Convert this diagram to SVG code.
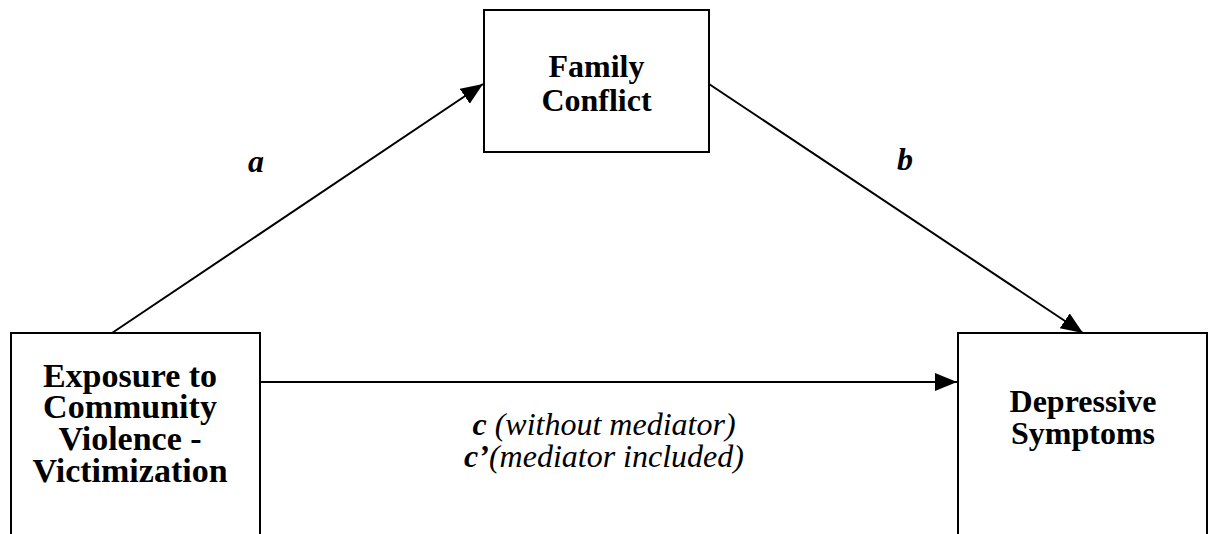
<svg xmlns="http://www.w3.org/2000/svg" width="1210" height="534" viewBox="0 0 1210 534">
  <style>
    .box { fill: #ffffff; stroke: #000000; stroke-width: 2; }
    .conn { fill: none; stroke: #000000; stroke-width: 2; }
    .lbl { font-family: "Liberation Serif", "Times New Roman", serif; font-size: 32px; font-weight: bold; fill: #000000; text-anchor: middle; }
    .big { font-size: 34px; }
    .it { font-family: "Liberation Serif", "Times New Roman", serif; font-size: 32px; font-style: italic; fill: #000000; text-anchor: middle; }
  </style>
  <defs>
    <marker id="arr" markerUnits="userSpaceOnUse" markerWidth="24" markerHeight="20" refX="22" refY="9" orient="auto">
      <path d="M0,0 L22,9 L0,18 z" fill="#000000"/>
    </marker>
  </defs>
  <rect width="1210" height="534" fill="#ffffff"/>
  <g id="connectors">
    <line class="conn" x1="112" y1="333" x2="483" y2="84" marker-end="url(#arr)"/>
    <line class="conn" x1="709" y1="84" x2="1083" y2="333" marker-end="url(#arr)"/>
    <line class="conn" x1="261" y1="382" x2="957" y2="382" marker-end="url(#arr)"/>
  </g>
  <g id="node-family">
    <rect class="box" x="484" y="10" width="225" height="142"/>
    <text class="lbl" x="596.5" y="77">Family</text>
    <text class="lbl" x="596.5" y="111">Conflict</text>
  </g>
  <g id="node-exposure">
    <rect class="box" x="11" y="333" width="249" height="220"/>
    <text class="lbl big" x="130" y="387">Exposure to</text>
    <text class="lbl big" x="130" y="418">Community</text>
    <text class="lbl big" x="130" y="450">Violence -</text>
    <text class="lbl big" x="130" y="482">Victimization</text>
  </g>
  <g id="node-depressive">
    <rect class="box" x="958" y="333" width="249" height="220"/>
    <text class="lbl" x="1083" y="412">Depressive</text>
    <text class="lbl" x="1083" y="444">Symptoms</text>
  </g>
  <g id="labels">
    <text class="it" x="256" y="172" font-weight="bold">a</text>
    <text class="it" x="905" y="170" font-weight="bold">b</text>
    <text class="it" x="604" y="435"><tspan font-weight="bold">c</tspan> (without mediator)</text>
    <text class="it" x="604" y="467"><tspan font-weight="bold">c’</tspan>(mediator included)</text>
  </g>
</svg>
